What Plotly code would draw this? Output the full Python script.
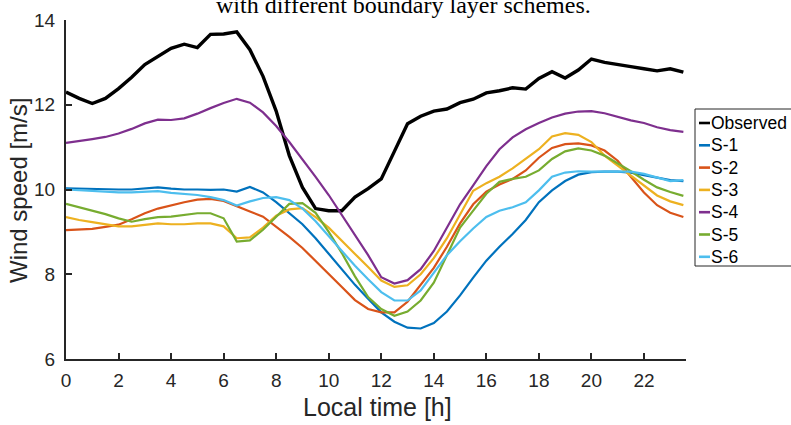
import plotly.graph_objects as go

hours = [i * 0.5 for i in range(48)]

observed = [12.3, 12.15, 12.03, 12.15, 12.38, 12.65, 12.95, 13.15, 13.33, 13.43, 13.35, 13.66,
            13.67, 13.72, 13.3, 12.67, 11.85, 10.8, 10.05, 9.55, 9.5, 9.5, 9.82, 10.02,
            10.25, 10.9, 11.55, 11.73, 11.85, 11.9, 12.05, 12.13, 12.28, 12.33, 12.4, 12.37,
            12.62, 12.78, 12.63, 12.82, 13.08, 13.0, 12.96, 12.9, 12.85, 12.8, 12.85, 12.77]
s1 = [10.03, 10.02, 10.01, 10.0, 10.0, 10.0, 10.02, 10.05, 10.02, 10.0, 10.0, 9.99,
      10.0, 9.95, 10.06, 9.93, 9.7, 9.45, 9.18, 8.85, 8.48, 8.1, 7.75, 7.42,
      7.1, 6.88, 6.74, 6.72, 6.85, 7.12, 7.5, 7.92, 8.32, 8.65, 8.95, 9.28,
      9.7, 9.98, 10.2, 10.35, 10.41, 10.42, 10.42, 10.4, 10.34, 10.28, 10.22, 10.2]
s2 = [9.04, 9.05, 9.07, 9.12, 9.17, 9.3, 9.44, 9.55, 9.63, 9.7, 9.76, 9.78,
      9.73, 9.6, 9.48, 9.36, 9.13, 8.88, 8.62, 8.32, 8.0, 7.7, 7.39, 7.18,
      7.1, 7.1, 7.35, 7.75, 8.15, 8.65, 9.2, 9.65, 9.95, 10.12, 10.25, 10.45,
      10.75, 10.98, 11.07, 11.09, 11.04, 10.92, 10.68, 10.3, 9.93, 9.63, 9.45, 9.35]
s3 = [9.35, 9.28, 9.23, 9.18, 9.13, 9.13, 9.17, 9.2, 9.18, 9.18, 9.2, 9.2,
      9.13, 8.85, 8.87, 9.1, 9.38, 9.53, 9.56, 9.35, 9.1, 8.8, 8.48, 8.17,
      7.85, 7.7, 7.74, 8.0, 8.38, 8.85, 9.4, 9.97, 10.15, 10.3, 10.5, 10.72,
      10.95, 11.25, 11.33, 11.29, 11.12, 10.8, 10.56, 10.33, 10.1, 9.86, 9.72, 9.63]
s4 = [11.1, 11.14, 11.19, 11.24, 11.32, 11.43, 11.56, 11.65, 11.64, 11.68, 11.79, 11.92,
      12.04, 12.14, 12.05, 11.82, 11.5, 11.12, 10.72, 10.3, 9.87, 9.4, 8.92, 8.45,
      7.93, 7.78, 7.86, 8.12, 8.55, 9.1, 9.65, 10.1, 10.55, 10.95, 11.23, 11.42,
      11.57, 11.7, 11.79, 11.84, 11.85, 11.8, 11.72, 11.63, 11.57, 11.47, 11.4, 11.36]
s5 = [9.66, 9.58, 9.51, 9.42, 9.32, 9.24, 9.3, 9.35, 9.36, 9.4, 9.44, 9.44,
      9.32, 8.77, 8.8, 9.05, 9.35, 9.66, 9.68, 9.45, 9.0, 8.5, 7.95, 7.46,
      7.18, 7.02, 7.12, 7.38, 7.8, 8.45, 9.1, 9.5, 9.9, 10.18, 10.25, 10.3,
      10.45, 10.72, 10.9, 10.97, 10.92, 10.8, 10.62, 10.43, 10.23, 10.05, 9.94, 9.85]
s6 = [10.0, 9.98, 9.96, 9.94, 9.93, 9.93, 9.95, 9.96, 9.92, 9.9, 9.87, 9.82,
      9.75, 9.62, 9.72, 9.8, 9.82, 9.75, 9.55, 9.25, 8.9, 8.55, 8.2, 7.88,
      7.58, 7.38, 7.38, 7.62, 8.05, 8.45, 8.78, 9.08, 9.35, 9.5, 9.58, 9.7,
      9.98, 10.3, 10.4, 10.43, 10.42, 10.42, 10.43, 10.42, 10.37, 10.29, 10.2, 10.22]

names = ["Observed", "S-1", "S-2", "S-3", "S-4", "S-5", "S-6"]
series = [observed, s1, s2, s3, s4, s5, s6]
colors = ["#000000", "#0072BD", "#D95319", "#EDB120", "#7E2F8E", "#77AC30", "#4DBEEE"]
widths = [3.4, 2.2, 2.2, 2.2, 2.2, 2.2, 2.2]

x_ticks = list(range(0, 23, 2))
y_ticks = [6, 8, 10, 12, 14]

W, H = 791, 425
L, R, T, B = 66, 686, 20, 359


def px(p):
    return (p - L) / (R - L)


def py(p):
    return (B - p) / (B - T)


fig = go.Figure()
for n, s, c, w in zip(names, series, colors, widths):
    fig.add_trace(go.Scatter(x=hours, y=s, mode="lines", name=n, showlegend=False,
                             line=dict(color=c, width=w)))

axcol = "#262626"
fig.update_layout(
    width=W, height=H,
    margin=dict(l=L, r=W - R, t=T, b=H - B, autoexpand=False),
    paper_bgcolor="white", plot_bgcolor="white",
    font=dict(family="Arial, Liberation Sans, sans-serif", color=axcol, size=19),
    showlegend=False,
    xaxis=dict(range=[0, 23.6], tickvals=x_ticks, ticktext=[str(v) for v in x_ticks],
               showgrid=False, zeroline=False, showline=True, linecolor=axcol, linewidth=2,
               ticks="inside", ticklen=6, tickwidth=2, tickcolor=axcol,
               tickfont=dict(size=19), ticklabelstandoff=3),
    yaxis=dict(range=[6, 14], tickvals=y_ticks, ticktext=[str(v) for v in y_ticks],
               showgrid=False, zeroline=False, showline=True, linecolor=axcol, linewidth=2,
               ticks="inside", ticklen=6, tickwidth=2, tickcolor=axcol,
               tickfont=dict(size=19), ticklabelstandoff=5),
)

# axis titles
fig.add_annotation(text="Local time [h]", xref="paper", yref="paper", x=px(378), y=py(407),
                   xanchor="center", yanchor="middle", showarrow=False,
                   font=dict(size=25, color=axcol))
fig.add_annotation(text="Wind speed [m/s]", xref="paper", yref="paper", x=px(18), y=py(191),
                   xanchor="center", yanchor="middle", showarrow=False, textangle=-90,
                   font=dict(size=24, color=axcol))

# clipped caption line at the very top
fig.add_annotation(text="with different boundary layer schemes.", xref="paper", yref="paper",
                   x=px(403), y=py(20), xanchor="center", yanchor="bottom",
                   showarrow=False,
                   font=dict(family="Liberation Serif, Times New Roman, serif", size=24, color="#000000"))

# legend (MATLAB style, short line samples)
leg_top, leg_bot, leg_left = 109, 266, 695
fig.add_shape(type="rect", xref="paper", yref="paper",
              x0=px(leg_left), x1=px(800), y0=py(leg_bot), y1=py(leg_top),
              line=dict(color=axcol, width=1), fillcolor="white", layer="above")
for i, (n, c) in enumerate(zip(names, colors)):
    yc = 123 + 22.3 * i
    fig.add_shape(type="line", xref="paper", yref="paper",
                  x0=px(699), x1=px(710), y0=py(yc), y1=py(yc),
                  line=dict(color=c, width=2.6), layer="above")
    fig.add_annotation(text=n, xref="paper", yref="paper", x=px(710), y=py(yc),
                       xanchor="left", yanchor="middle", showarrow=False,
                       font=dict(size=17.5, color="#000000"), borderpad=0)

fig.write_html("out.html")
